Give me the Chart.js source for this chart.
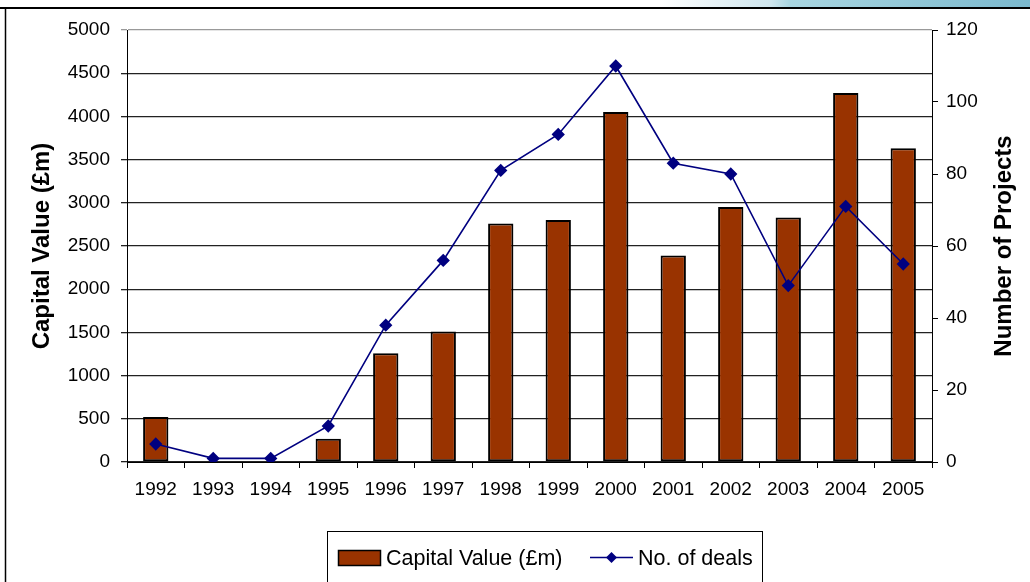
<!DOCTYPE html>
<html><head><meta charset="utf-8">
<script src="https://cdn.jsdelivr.net/npm/chart.js@4.4.1/dist/chart.umd.min.js"></script>
<style>html,body{margin:0;padding:0;background:#fff;overflow:hidden}canvas{display:block}</style>
</head><body>
<canvas id="c" width="1030" height="582"></canvas>
<script>
const years = ['1992','1993','1994','1995','1996','1997','1998','1999','2000','2001','2002','2003','2004','2005'];
const capitalValue = [520, 0, 0, 270, 1260, 1510, 2760, 2800, 4050, 2390, 2950, 2830, 4270, 3630];
const deals = [5, 1, 1, 10, 38, 56, 81, 91, 110, 83, 80, 49, 71, 55];
const seriesLabels = ['Capital Value (£m)', 'No. of deals'];
const axisTitles = ['Capital Value (£m)', 'Number of Projects'];
const leftMax = 5000, leftStep = 500;
const rightMax = 120, rightStep = 20;

const FONT = '"Liberation Sans", Arial, sans-serif';
Chart.defaults.color = '#000';
Chart.defaults.font.family = FONT;

const decor = {
  id: 'decor',
  beforeDraw(chart) {
    const ctx = chart.ctx;
    ctx.save();
    ctx.fillStyle = '#fff';
    ctx.fillRect(0, 0, chart.width, chart.height);
    const g = ctx.createLinearGradient(660, 0, 1030, 0);
    g.addColorStop(0, 'rgba(255,255,255,1)');
    g.addColorStop(0.3, '#cfe6ee');
    g.addColorStop(0.35, '#a9d6e1');
    g.addColorStop(1, '#7bb9ce');
    ctx.fillStyle = g;
    ctx.fillRect(0, 0, chart.width, 7);
    ctx.strokeStyle = '#000';
    ctx.lineWidth = 2;
    ctx.beginPath();
    ctx.moveTo(0, 8); ctx.lineTo(chart.width, 8);
    ctx.stroke();
    ctx.lineWidth = 1.5;
    ctx.beginPath();
    ctx.moveTo(5.5, 8); ctx.lineTo(5.5, chart.height);
    ctx.stroke();
    ctx.restore();
  },
  afterDraw(chart) {
    const ctx = chart.ctx;
    const dsets = chart.data.datasets;
    const barDs = dsets.find(d => d.type === 'bar');
    const lineDs = dsets.find(d => d.type === 'line');
    const area = chart.chartArea;
    ctx.save();
    // right axis title (reads bottom-to-top)
    ctx.font = 'bold 24px ' + FONT;
    ctx.fillStyle = '#000';
    ctx.textAlign = 'center';
    ctx.textBaseline = 'middle';
    ctx.translate(1004, (area.top + area.bottom) / 2);
    ctx.rotate(-Math.PI / 2);
    ctx.fillText(axisTitles[1], 0, 0);
    ctx.restore();

    // legend
    ctx.save();
    ctx.strokeStyle = '#000';
    ctx.lineWidth = 1;
    ctx.strokeRect(327.5, 531.5, 435, 70);
    ctx.fillStyle = barDs.backgroundColor;
    ctx.fillRect(338, 550, 42, 15);
    ctx.lineWidth = 1.5;
    ctx.strokeRect(338.5, 550.5, 42, 15);
    ctx.font = '21.5px ' + FONT;
    ctx.fillStyle = '#000';
    ctx.textAlign = 'left';
    ctx.textBaseline = 'alphabetic';
    ctx.fillText(barDs.label, 386, 565);
    ctx.strokeStyle = lineDs.borderColor;
    ctx.lineWidth = 1.5;
    ctx.beginPath();
    ctx.moveTo(590, 557.5); ctx.lineTo(633, 557.5);
    ctx.stroke();
    ctx.fillStyle = lineDs.pointBackgroundColor;
    ctx.beginPath();
    ctx.moveTo(611.5, 552); ctx.lineTo(617, 557.5); ctx.lineTo(611.5, 563); ctx.lineTo(606, 557.5);
    ctx.closePath(); ctx.fill();
    ctx.fillStyle = '#000';
    ctx.fillText(lineDs.label, 638, 565);
    ctx.restore();
  }
};

const plain = (v) => String(v);

new Chart(document.getElementById('c'), {
  data: {
    labels: years,
    datasets: [
      {
        type: 'line',
        label: seriesLabels[1],
        data: deals,
        yAxisID: 'y1',
        borderColor: '#000080',
        backgroundColor: '#000080',
        pointBackgroundColor: '#000080',
        pointBorderColor: '#000080',
        borderWidth: 1.6,
        pointStyle: 'rectRot',
        pointRadius: 5.5,
        pointHoverRadius: 5.5,
        tension: 0,
        order: 0
      },
      {
        type: 'bar',
        label: seriesLabels[0],
        data: capitalValue,
        yAxisID: 'y',
        backgroundColor: '#993300',
        borderColor: '#000',
        borderWidth: 2,
        borderSkipped: false,
        categoryPercentage: 1,
        barPercentage: 0.44,
        order: 1
      }
    ]
  },
  options: {
    responsive: false,
    animation: false,
    devicePixelRatio: 1,
    layout: { padding: { top: 30, left: 0, right: 0, bottom: 0 } },
    plugins: { legend: { display: false }, tooltip: { enabled: false } },
    scales: {
      x: {
        type: 'category',
        offset: true,
        afterFit(s) { s.height = 120; },
        grid: { display: true, drawOnChartArea: false, offset: true, color: '#000', tickLength: 6, lineWidth: 1 },
        border: { display: true, color: '#000', width: 1 },
        ticks: { font: { size: 19 }, padding: 10, maxRotation: 0, autoSkip: false }
      },
      y: {
        position: 'left',
        min: 0, max: leftMax,
        afterFit(s) { s.width = 127; },
        ticks: { stepSize: leftStep, font: { size: 19 }, padding: 11, callback: plain },
        grid: {
          color: (c) => (c.tick && c.tick.value === leftMax) ? '#999' : '#222',
          lineWidth: 1.3, tickLength: 6, drawTicks: true
        },
        border: { display: true, color: '#000', width: 1 },
        title: { display: true, text: axisTitles[0], font: { size: 24, weight: 'bold' }, padding: { top: 27.6, bottom: 0 } }
      },
      y1: {
        position: 'right',
        min: 0, max: rightMax,
        afterFit(s) { s.width = 98; },
        ticks: { stepSize: rightStep, font: { size: 19 }, padding: 8, callback: plain },
        grid: { drawOnChartArea: false, color: '#000', tickLength: 6, lineWidth: 1 },
        border: { display: true, color: '#000', width: 1 }
      }
    }
  },
  plugins: [decor]
});
</script>
</body></html>
